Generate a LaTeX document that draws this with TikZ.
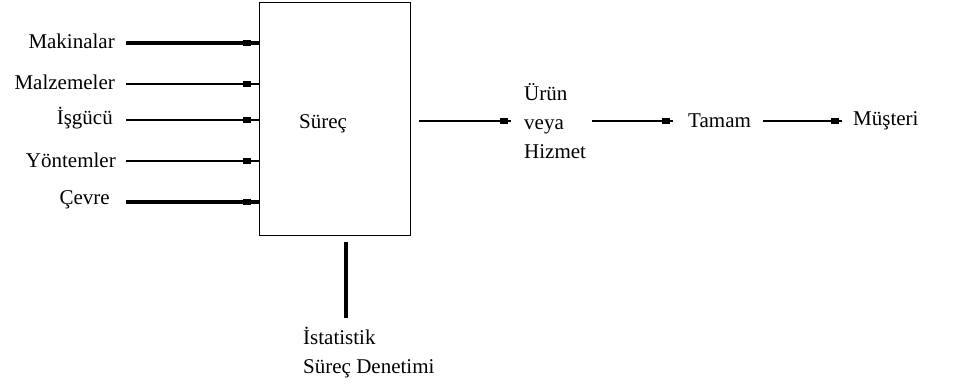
\documentclass[tikz,border=0pt]{standalone}
\usepackage{fontspec}
\setmainfont{Liberation Serif}
\usetikzlibrary{decorations.markings}
\begin{document}
\begin{tikzpicture}[x=1pt,y=-1pt,
  lbl/.style={inner sep=0pt,font=\fontsize{21}{29}\selectfont},
  feed/.style={postaction={decorate},decoration={markings,
    mark=at position -12pt with {\fill (-3.7pt,-3.4pt) rectangle (3.7pt,3.4pt);}}},
  outlink/.style={line width=1.3pt,postaction={decorate},decoration={markings,
    mark=at position -7pt with {\fill (-3.7pt,-3.2pt) rectangle (3.7pt,3.2pt);}}},
  heavy/.style={line width=3.2pt},
  medium/.style={line width=1.9pt},
  light/.style={line width=1.4pt}]
\useasboundingbox (0,0) rectangle (956,383);

% process box
\node[draw,line width=1.4pt,minimum width=151pt,minimum height=233pt,inner sep=0pt,anchor=north west]
  (box) at (259,2) {};
\node[lbl] (proc) at (323,124) {Süreç};

% inputs
\node[lbl,anchor=east] (mak) at (115,41) {Makinalar};
\node[lbl,anchor=east] (mal) at (115,82) {Malzemeler};
\node[lbl,anchor=east] (isg) at (113,118) {İşgücü};
\node[lbl,anchor=east] (yon) at (116,160) {Yöntemler};
\node[lbl,anchor=east] (cev) at (110,200) {Çevre};

\draw[heavy,feed]  ([xshift=11pt]mak.east |- 0,43) -- (box.west |- 0,43);
\draw[light,feed]  ([xshift=11pt]mal.east |- 0,84) -- (box.west |- 0,84);
\draw[medium,feed] ([xshift=13pt]isg.east |- 0,120) -- (box.west |- 0,120);
\draw[light,feed]  ([xshift=10pt]yon.east |- 0,161) -- (box.west |- 0,161);
\draw[heavy,feed]  ([xshift=16pt]cev.east |- 0,202) -- (box.west |- 0,202);

% outputs
\node[lbl,anchor=west,align=left] (urun) at (524,121) {Ürün\\veya\\Hizmet};
\node[lbl,anchor=west] (tam) at (688,121) {Tamam};
\node[lbl,anchor=west] (mus) at (853,121) {Müşteri};

\coordinate (o1) at (419,121);
\coordinate (o2) at (592,121);
\coordinate (o3) at (763,121);
\draw[outlink] (o1) -- ([xshift=-13pt]urun.west);
\draw[outlink] (o2) -- ([xshift=-15pt]tam.west);
\draw[outlink] (o3) -- ([xshift=-11pt]mus.west);

% statistical process control
\node[lbl,anchor=north west,align=left] (spc) at (303,327) {İstatistik\\Süreç Denetimi};
\coordinate (c1) at (346,242);
\coordinate (c2) at (346,318);
\draw[heavy] (c1) -- (c2);
\end{tikzpicture}
\end{document}
